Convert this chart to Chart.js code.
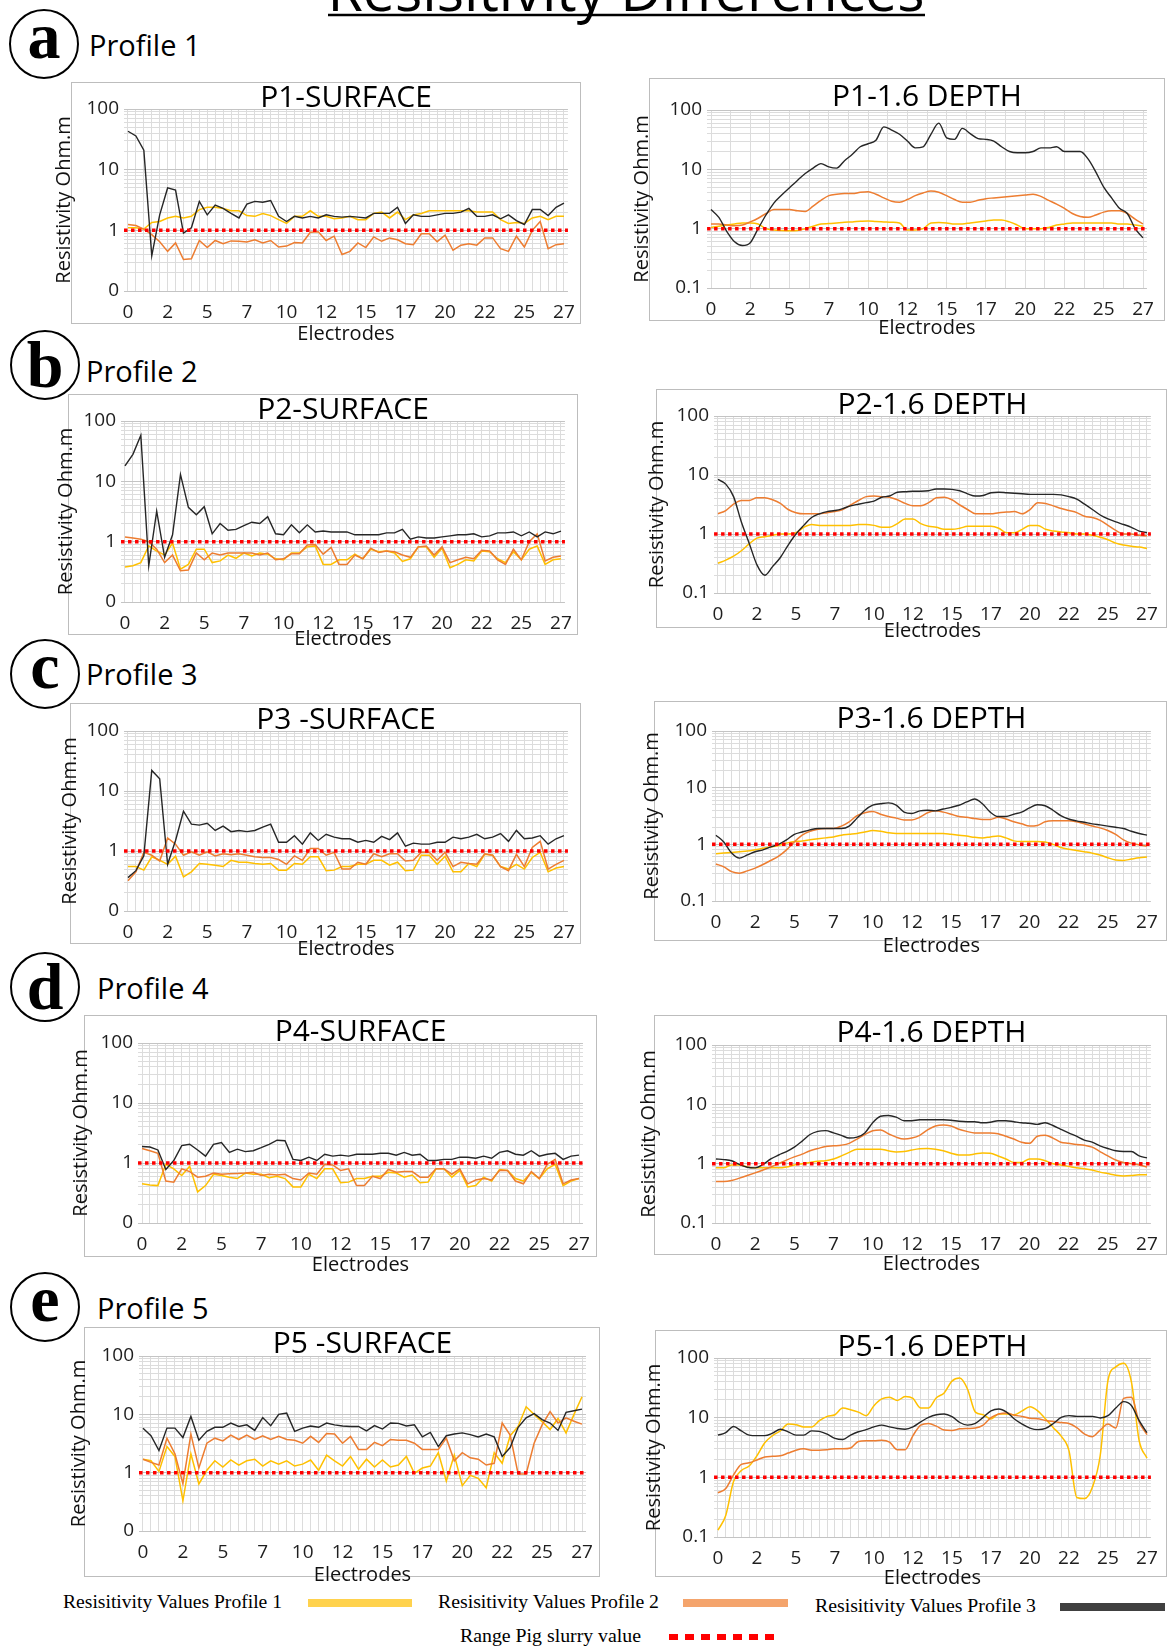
<!DOCTYPE html>
<html>
<head>
<meta charset="utf-8">
<script src="https://cdn.jsdelivr.net/npm/chart.js@4.4.1/dist/chart.umd.min.js"></script>
<style>
html,body{margin:0;padding:0;background:#fff;}
#page{position:relative;width:1168px;height:1648px;overflow:hidden;background:#fff;}
.box{position:absolute;border:1px solid #BDBDBD;background:#fff;box-sizing:border-box;z-index:1;}
canvas{position:absolute;z-index:2;}
#deco{position:absolute;left:0;top:0;z-index:0;}
</style>
</head>
<body>
<div id="page">
<svg id="deco" width="1168" height="1648" xmlns="http://www.w3.org/2000/svg">
  <text x="626" y="11" font-family="Open Sans" font-size="58" text-anchor="middle" textLength="597" lengthAdjust="spacingAndGlyphs">Resisitivity Differences</text>
  <line x1="328" y1="15" x2="925" y2="15" stroke="#000" stroke-width="2.5"/>

  <circle cx="44" cy="44" r="34" fill="none" stroke="#000" stroke-width="2"/>
  <text x="44" y="58" font-family="Liberation Serif" font-weight="bold" font-size="66" text-anchor="middle">a</text>
  <text x="89" y="56" font-family="Open Sans" font-size="29">Profile 1</text>

  <circle cx="45" cy="365" r="34" fill="none" stroke="#000" stroke-width="2"/>
  <text x="45" y="387" font-family="Liberation Serif" font-weight="bold" font-size="66" text-anchor="middle">b</text>
  <text x="86" y="382" font-family="Open Sans" font-size="29">Profile 2</text>

  <circle cx="45" cy="674" r="34" fill="none" stroke="#000" stroke-width="2"/>
  <text x="45" y="688" font-family="Liberation Serif" font-weight="bold" font-size="66" text-anchor="middle">c</text>
  <text x="86" y="685" font-family="Open Sans" font-size="29">Profile 3</text>

  <circle cx="45" cy="987" r="34" fill="none" stroke="#000" stroke-width="2"/>
  <text x="45" y="1009" font-family="Liberation Serif" font-weight="bold" font-size="66" text-anchor="middle">d</text>
  <text x="97" y="999" font-family="Open Sans" font-size="29">Profile 4</text>

  <circle cx="45" cy="1307" r="34" fill="none" stroke="#000" stroke-width="2"/>
  <text x="45" y="1321" font-family="Liberation Serif" font-weight="bold" font-size="66" text-anchor="middle">e</text>
  <text x="97" y="1319" font-family="Open Sans" font-size="29">Profile 5</text>

  <text x="63" y="1608" font-family="Liberation Serif" font-size="19" textLength="219" lengthAdjust="spacingAndGlyphs">Resisitivity Values Profile 1</text>
  <rect x="308" y="1599" width="104" height="8" fill="#FFD24D"/>
  <text x="438" y="1608" font-family="Liberation Serif" font-size="19" textLength="221" lengthAdjust="spacingAndGlyphs">Resisitivity Values Profile 2</text>
  <rect x="683" y="1599" width="105" height="8" fill="#F4A46C"/>
  <text x="815" y="1612" font-family="Liberation Serif" font-size="19" textLength="221" lengthAdjust="spacingAndGlyphs">Resisitivity Values Profile 3</text>
  <rect x="1060" y="1603" width="105" height="8" fill="#404040"/>
  <text x="460" y="1642" font-family="Liberation Serif" font-size="19" textLength="181" lengthAdjust="spacingAndGlyphs">Range Pig slurry value</text>
  <line x1="669" y1="1637" x2="775" y2="1637" stroke="#FF0000" stroke-width="6" stroke-dasharray="9 7"/>
</svg>
</div>
<script>
// ---------------- DATA ----------------
const ELECTRODES = [0,0.5,1,1.5,2,2.5,3,3.5,4,4.5,5,5.5,6,6.5,7,7.5,8,8.5,9,9.5,10,10.5,11,11.5,12,12.5,13,13.5,14,14.5,15,15.5,16,16.5,17,17.5,18,18.5,19,19.5,20,20.5,21,21.5,22,22.5,23,23.5,24,24.5,25,25.5,26,26.5,27,27.5];
const XTICK_VALUES = [0,2.5,5,7.5,10,12.5,15,17.5,20,22.5,25,27.5];
const XTICK_LABELS = ['0','2','5','7','10','12','15','17','20','22','25','27'];
const SLURRY_VALUE = 1;
const SERIES_NAMES = ['Resisitivity Values Profile 1','Resisitivity Values Profile 2','Resisitivity Values Profile 3'];

// P1 surface
const p1SurfaceProfile1 = [1.1,1.1,1.05,1.35,1.4,1.6,1.7,1.6,1.7,2.2,2.4,2.4,2.3,2.1,2.1,1.75,1.7,1.9,1.75,1.5,1.3,1.7,1.7,2.1,1.7,1.7,1.55,1.6,1.7,1.5,1.5,1.9,2.0,1.6,2.0,1.5,1.8,1.9,2.1,2.1,2.1,2.1,2.1,2.1,2.0,2.0,2.0,1.5,1.3,1.35,1.3,1.6,1.7,1.5,1.7,1.7];
const p1SurfaceProfile2 = [1.25,1.2,1.05,0.85,0.65,0.45,0.62,0.33,0.34,0.68,0.52,0.68,0.6,0.67,0.66,0.64,0.7,0.62,0.68,0.53,0.55,0.63,0.62,0.93,0.95,0.68,0.8,0.4,0.45,0.62,0.52,0.78,0.66,0.75,0.7,0.6,0.58,0.88,0.88,0.65,0.83,0.47,0.57,0.6,0.57,0.75,0.75,0.5,0.45,0.8,0.53,1.0,1.4,0.5,0.58,0.6];
const p1SurfaceProfile3 = [43,36,21,0.38,1.8,5.0,4.6,0.9,1.1,3.0,1.8,2.6,2.3,1.9,1.6,2.7,3.0,2.9,3.1,1.7,1.4,1.7,1.6,1.7,1.6,1.8,1.7,1.65,1.7,1.65,1.6,1.9,1.9,1.9,2.4,1.3,1.8,1.7,1.7,1.8,1.9,1.9,2.0,2.3,1.7,1.7,1.8,1.55,1.8,1.45,1.25,2.2,2.2,1.75,2.4,2.8];
// P1 1.6 depth
const p1DepthProfile1 = [1.05,1.1,1.15,1.2,1.25,1.25,1.2,1.0,0.95,0.93,0.92,0.93,1.0,1.1,1.2,1.22,1.25,1.28,1.3,1.33,1.35,1.32,1.3,1.28,1.25,0.95,0.95,1.0,1.25,1.27,1.25,1.2,1.2,1.25,1.3,1.35,1.4,1.4,1.3,1.15,1.0,1.0,1.0,1.05,1.15,1.2,1.25,1.25,1.25,1.25,1.25,1.25,1.2,1.2,1.15,1.1];
const p1DepthProfile2 = [1.2,1.2,1.15,1.12,1.15,1.3,1.5,1.8,2.1,2.1,2.1,2.0,1.95,2.4,3.0,3.6,3.8,3.9,3.9,4.1,4.2,3.8,3.3,2.9,2.8,3.1,3.6,4.0,4.3,4.1,3.6,3.1,2.8,2.8,3.0,3.2,3.3,3.4,3.5,3.6,3.7,3.8,3.5,3.0,2.6,2.2,1.8,1.6,1.55,1.7,1.9,2.0,2.0,1.8,1.45,1.2];
const p1DepthProfile3 = [2.1,1.55,0.9,0.6,0.52,0.58,1.0,1.7,2.7,3.7,4.9,6.5,8.5,10.5,12.5,11,10.5,14,18,24,27,31,52,46,39,30,23,24,39,60,34,32,49,40,33,32,30,24,20,19,19,20,23,23,24,20,20,20,15,9,5,3.3,2.2,1.8,1.0,0.7];
// P2 surface
const p2SurfaceProfile1 = [0.38,0.4,0.45,0.85,0.7,0.6,0.95,0.35,0.42,0.75,0.75,0.45,0.48,0.6,0.53,0.65,0.58,0.65,0.62,0.52,0.5,0.65,0.65,0.82,0.85,0.42,0.42,0.5,0.5,0.62,0.52,0.75,0.68,0.7,0.65,0.47,0.52,0.82,0.82,0.55,0.78,0.37,0.42,0.5,0.48,0.7,0.68,0.52,0.45,0.68,0.5,0.75,0.85,0.42,0.5,0.52];
const p2SurfaceProfile2 = [1.2,1.15,1.1,1.0,0.75,0.45,0.6,0.33,0.34,0.65,0.5,0.65,0.6,0.65,0.65,0.65,0.65,0.6,0.65,0.5,0.52,0.63,0.63,0.88,0.9,0.62,0.8,0.42,0.42,0.6,0.52,0.78,0.66,0.7,0.68,0.6,0.55,0.82,0.85,0.6,0.82,0.45,0.5,0.55,0.52,0.72,0.7,0.5,0.42,0.75,0.5,1.0,1.35,0.48,0.55,0.58];
const p2SurfaceProfile3 = [18,28,58,0.4,3.2,0.55,1.3,13,3.7,2.8,3.8,1.35,2.0,1.55,1.6,1.85,2.1,2.0,2.6,1.35,1.3,1.9,1.4,1.9,1.45,1.5,1.45,1.45,1.45,1.3,1.3,1.3,1.3,1.4,1.4,1.6,1.1,1.2,1.15,1.15,1.2,1.25,1.3,1.3,1.35,1.2,1.25,1.4,1.4,1.45,1.25,1.45,1.2,1.45,1.35,1.5];
// P2 1.6 depth
const p2DepthProfile1 = [0.32,0.36,0.42,0.52,0.68,0.85,0.9,0.95,1.0,1.0,1.05,1.3,1.45,1.4,1.4,1.4,1.4,1.4,1.45,1.45,1.4,1.3,1.3,1.5,1.8,1.8,1.5,1.35,1.3,1.2,1.2,1.25,1.35,1.35,1.35,1.35,1.25,1.05,1.05,1.2,1.4,1.4,1.2,1.12,1.08,1.05,1.0,1.0,0.95,0.88,0.8,0.7,0.65,0.62,0.6,0.57];
const p2DepthProfile2 = [2.2,2.5,3.2,3.7,3.7,4.1,4.1,3.8,3.3,2.6,2.3,2.2,2.2,2.2,2.3,2.4,2.6,3.1,3.7,4.3,4.4,4.3,4.2,3.8,3.3,3.0,3.0,3.4,4.1,4.2,3.8,3.1,2.6,2.2,2.2,2.2,2.3,2.35,2.4,2.2,2.6,3.4,3.3,3.0,2.7,2.5,2.3,2.0,1.9,1.7,1.4,1.15,1.0,1.0,0.95,0.93];
const p2DepthProfile3 = [8.4,7.0,4.3,1.6,0.7,0.3,0.2,0.28,0.4,0.65,1.0,1.4,1.9,2.2,2.4,2.5,2.7,3.0,3.2,3.4,3.6,4.2,4.4,5.1,5.2,5.3,5.3,5.4,5.8,5.8,5.7,5.4,4.8,4.4,4.5,5.0,5.1,5.0,4.9,4.8,4.7,4.7,4.7,4.7,4.6,4.3,3.9,3.2,2.6,2.1,1.8,1.6,1.45,1.3,1.12,1.05];
// P3 surface
const p3SurfaceProfile1 = [0.55,0.55,0.48,0.8,0.7,0.6,0.82,0.37,0.45,0.62,0.6,0.58,0.55,0.7,0.65,0.65,0.62,0.6,0.62,0.48,0.48,0.62,0.6,0.8,0.8,0.47,0.48,0.55,0.55,0.6,0.6,0.7,0.7,0.58,0.65,0.47,0.48,0.85,0.85,0.6,0.82,0.45,0.45,0.62,0.55,0.88,0.85,0.55,0.5,0.6,0.5,0.78,0.95,0.45,0.52,0.55];
const p3SurfaceProfile2 = [0.32,0.45,0.95,0.85,0.68,1.65,1.3,0.85,0.97,0.85,0.97,0.83,0.9,0.87,0.9,0.85,0.8,0.78,0.78,0.72,0.6,0.83,0.7,1.1,1.1,0.85,0.95,0.5,0.5,0.65,0.6,0.9,0.8,0.9,0.9,0.68,0.7,0.95,0.95,0.7,0.95,0.55,0.65,0.62,0.6,0.9,0.85,0.55,0.47,0.88,0.55,1.15,1.45,0.5,0.6,0.7];
const p3SurfaceProfile3 = [0.36,0.47,0.83,22,16,0.6,1.5,4.6,2.8,2.7,2.9,2.2,2.6,2.1,2.2,2.1,2.2,2.5,2.8,1.4,1.4,1.8,1.3,2.0,1.5,1.9,1.7,1.6,1.6,1.4,1.5,1.4,1.75,1.55,2.0,1.2,1.35,1.3,1.3,1.4,1.4,1.7,1.6,1.7,1.9,1.6,1.7,1.95,1.45,2.2,1.6,1.65,1.8,1.3,1.6,1.8];
// P3 1.6 depth
const p3DepthProfile1 = [0.68,0.7,0.72,0.74,0.76,0.8,0.85,0.9,0.95,1.05,1.12,1.15,1.2,1.25,1.3,1.35,1.45,1.5,1.55,1.65,1.75,1.7,1.6,1.55,1.55,1.55,1.55,1.55,1.55,1.55,1.5,1.45,1.4,1.33,1.3,1.35,1.4,1.3,1.15,1.12,1.12,1.12,1.1,1.0,0.88,0.82,0.78,0.74,0.7,0.65,0.58,0.53,0.52,0.55,0.58,0.6];
const p3DepthProfile2 = [0.45,0.4,0.33,0.31,0.34,0.38,0.44,0.52,0.62,0.8,1.1,1.45,1.7,1.85,1.9,1.9,2.1,2.5,3.2,3.6,3.8,3.4,3.1,2.9,2.7,2.7,3.0,3.6,3.9,3.7,3.4,3.1,3.0,2.85,2.75,2.75,3.0,2.8,2.5,2.3,2.1,2.15,2.5,2.6,2.6,2.6,2.5,2.3,2.1,1.95,1.75,1.5,1.2,1.05,0.98,0.93];
const p3DepthProfile3 = [1.45,1.1,0.7,0.57,0.65,0.74,0.8,0.9,1.0,1.2,1.5,1.65,1.8,1.9,1.9,1.9,1.9,2.1,2.9,4.0,4.9,5.2,5.4,4.9,3.7,3.5,3.9,4.0,3.9,4.2,4.5,4.9,5.6,6.3,5.2,3.7,3.1,3.1,3.4,3.7,4.4,5.0,4.8,4.0,3.2,2.8,2.6,2.45,2.3,2.2,2.1,2.0,1.9,1.7,1.55,1.45];
// P4 surface
const p4SurfaceProfile1 = [0.45,0.43,0.42,0.95,0.8,0.62,0.88,0.33,0.42,0.65,0.62,0.58,0.55,0.68,0.65,0.65,0.57,0.6,0.55,0.4,0.4,0.65,0.55,0.8,0.8,0.47,0.48,0.55,0.55,0.6,0.6,0.7,0.68,0.58,0.63,0.47,0.48,0.8,0.8,0.58,0.75,0.4,0.42,0.58,0.5,0.78,0.75,0.55,0.5,0.7,0.55,0.8,0.95,0.42,0.5,0.55];
const p4SurfaceProfile2 = [1.75,1.6,1.45,0.5,0.48,0.8,0.72,0.58,0.6,0.68,0.65,0.66,0.67,0.68,0.7,0.62,0.65,0.63,0.65,0.55,0.52,0.68,0.65,0.95,0.93,0.75,0.8,0.42,0.42,0.6,0.55,0.78,0.7,0.72,0.72,0.58,0.58,0.8,0.8,0.65,0.8,0.45,0.52,0.55,0.52,0.75,0.75,0.5,0.45,0.72,0.55,0.95,1.15,0.45,0.52,0.55];
const p4SurfaceProfile3 = [1.88,1.85,1.65,0.78,1.1,1.95,2.05,1.65,1.3,2.05,2.2,1.5,1.7,1.55,1.6,1.8,2.05,2.4,2.35,1.15,1.1,1.25,1.1,1.4,1.3,1.35,1.3,1.4,1.4,1.4,1.45,1.45,1.35,1.5,1.35,1.4,1.1,1.1,1.15,1.15,1.25,1.25,1.2,1.3,1.2,1.5,1.6,1.4,1.35,1.6,1.3,1.4,1.45,1.15,1.3,1.35];
// P4 1.6 depth
const p4DepthProfile1 = [0.85,0.85,0.95,0.95,0.88,0.85,0.85,0.85,0.85,0.88,0.95,1.0,1.05,1.1,1.12,1.2,1.35,1.55,1.75,1.75,1.75,1.75,1.65,1.58,1.6,1.7,1.78,1.8,1.75,1.65,1.5,1.4,1.4,1.45,1.52,1.5,1.35,1.2,1.05,1.05,1.2,1.2,1.12,1.0,0.95,0.9,0.85,0.82,0.78,0.72,0.68,0.64,0.62,0.63,0.65,0.65];
const p4DepthProfile2 = [0.5,0.5,0.52,0.57,0.63,0.7,0.78,0.88,1.0,1.15,1.3,1.45,1.65,1.8,1.95,2.0,2.05,2.2,2.6,3.1,3.6,3.7,3.2,2.8,2.6,2.7,3.0,3.7,4.3,4.5,4.3,3.8,3.5,3.3,3.3,3.3,3.2,2.9,2.6,2.3,2.2,2.9,3.0,2.7,2.3,2.2,2.1,2.05,1.9,1.6,1.35,1.15,1.05,1.0,0.95,0.88];
const p4DepthProfile3 = [1.2,1.17,1.12,0.97,0.87,0.85,0.97,1.2,1.4,1.6,1.9,2.4,3.1,3.5,3.6,3.3,3.0,2.7,2.8,3.3,4.9,6.3,6.5,6.1,5.3,5.3,5.5,5.5,5.5,5.5,5.4,5.2,5.1,5.1,4.9,5.0,5.3,5.3,5.1,4.9,4.8,4.6,4.9,4.4,3.8,3.3,2.9,2.5,2.3,2.0,1.8,1.65,1.6,1.6,1.35,1.25];
// P5 surface
const p5SurfaceProfile1 = [1.7,1.6,1.05,2.8,1.9,0.33,2.1,0.64,1.1,1.6,1.25,1.65,1.35,1.6,1.7,1.3,1.6,1.4,1.6,1.3,1.4,1.65,1.1,2.0,1.6,1.3,1.9,1.15,1.7,1.25,1.65,1.25,1.35,1.9,0.97,1.2,1.3,2.2,0.72,2.0,0.6,0.9,0.8,0.55,2.2,1.45,4.3,6.2,13.5,10,7.5,5.5,8.5,4.8,10,20];
const p5SurfaceProfile2 = [1.7,1.5,1.35,3.9,2.1,0.65,4.6,1.2,3.2,3.9,3.5,4.4,3.7,4.4,3.7,4.3,3.7,4.2,3.7,3.6,3.2,4.2,3.3,4.7,4.6,3.2,4.2,2.5,2.5,3.3,2.9,3.7,3.6,3.6,3.2,2.5,2.5,2.5,3.9,1.6,2.2,1.8,1.7,1.35,1.45,7.1,4.4,0.95,0.95,3.2,6.6,11.1,7.1,8.7,7.6,6.8];
const p5SurfaceProfile3 = [5.8,4.3,2.4,5.8,5.8,4.0,9.2,3.6,5.1,6.0,6.0,7.1,6.2,6.6,5.3,8.8,6.4,10,10.5,5.1,5.8,6.3,6.0,7.1,6.6,6.3,6.2,6.2,5.2,6.4,5.6,7.1,7.0,6.3,6.6,4.1,4.9,2.8,4.3,4.6,4.8,4.5,4.1,4.6,4.1,1.9,2.7,6.0,8.7,10.3,8.1,7.1,5.3,10.8,11.5,12.3];
// P5 1.6 depth
const p5DepthProfile1 = [0.13,0.23,0.85,1.3,1.55,2.3,3.8,5.0,6.0,7.8,7.6,7.0,7.0,8.9,10.5,11.2,14.5,13.6,12.4,10.8,15.9,20.6,22,19.4,22.6,21,14.5,14.5,21.6,26,41,46,30,12.4,11.2,9.5,11.5,11.5,11.2,13,15.3,13,9.5,6.8,4.9,2.8,0.46,0.44,0.68,2.3,42,71,82,40,4.1,2.1];
const p5DepthProfile2 = [0.55,0.65,1.1,1.65,1.75,1.95,2.2,2.25,2.3,2.55,2.85,3.0,2.85,2.85,2.9,3.0,3.0,3.1,4.0,4.1,4.1,4.2,3.9,2.9,2.9,5.0,7.5,8.0,7.2,6.2,6.1,6.5,6.6,6.7,7.5,10.0,11.5,12.0,11.0,10.5,9.8,9.6,9.0,8.6,8.3,8.0,6.8,5.3,4.8,6.2,7.8,6.7,21,22,8.5,5.2];
const p5DepthProfile3 = [5.1,5.6,7.1,6.0,5.1,5.0,5.0,5.5,6.4,5.8,5.1,5.1,6.0,5.9,5.3,4.5,4.3,5.1,5.8,6.3,7.0,7.5,7.0,6.6,6.4,7.0,8.5,10.1,11.2,11.5,10.4,8.3,7.5,8.0,10.1,13,14,12.4,9.5,7.8,6.7,6.3,6.6,8.0,10.1,10.8,10.5,10.5,10.5,9.9,10.8,14.5,18.6,16,8.9,5.6];

// ---------------- STYLE / LAYOUT ----------------
const FONT = '"Open Sans", sans-serif';
const COLORS = ['#FFC000', '#ED7D31', '#262626'];
const X_PAD = 0.25;
const X_MAX = 27.5;
const TITLE_SIZE = 30;
const TITLE_SHIFT = 6;
const TICK_SIZE = 19;
const AXIS_TITLE_SIZE = 20;

function range(a, b, step) { const r = []; for (let v = a; v <= b + 1e-9; v += step) r.push(Math.round(v * 1000) / 1000); return r; }
const GRID_FINE = range(0, X_MAX, 0.5);
const GRID_COARSE = range(0, X_MAX, 1.25);
const Y_TICKS = [];
[0.1, 1, 10].forEach(d => { for (let k = 1; k <= 9; k++) Y_TICKS.push(Math.round(k * d * 1000) / 1000); });
Y_TICKS.push(100);

const isDecade = v => Math.abs(Math.log10(v) - Math.round(Math.log10(v))) < 1e-6;

const CHARTS = [
  {title:'P1-SURFACE', surface:true, s:[p1SurfaceProfile1,p1SurfaceProfile2,p1SurfaceProfile3], box:[71,82,581,324], x0:128, x27:566, y100:109, y01:291, yt:64, eo:43, grid:GRID_FINE},
  {title:'P1-1.6 DEPTH', surface:false, s:[p1DepthProfile1,p1DepthProfile2,p1DepthProfile3], box:[649,78,1165,321], x0:711, x27:1143, y100:110, y01:288, yt:642, eo:40, grid:GRID_COARSE},
  {title:'P2-SURFACE', surface:true, s:[p2SurfaceProfile1,p2SurfaceProfile2,p2SurfaceProfile3], box:[68,394,578,635], x0:125, x27:563, y100:421, y01:602, yt:66, eo:37, grid:GRID_FINE},
  {title:'P2-1.6 DEPTH', surface:false, s:[p2DepthProfile1,p2DepthProfile2,p2DepthProfile3], box:[656,389,1167,628], x0:718, x27:1151, y100:416, y01:593, yt:657, eo:38, grid:GRID_FINE},
  {title:'P3 -SURFACE', surface:true, s:[p3SurfaceProfile1,p3SurfaceProfile2,p3SurfaceProfile3], box:[70,703,581,944], x0:128, x27:566, y100:731, y01:911, yt:70, eo:38, grid:GRID_FINE},
  {title:'P3-1.6 DEPTH', surface:false, s:[p3DepthProfile1,p3DepthProfile2,p3DepthProfile3], box:[654,701,1167,941], x0:716, x27:1152, y100:731, y01:901, yt:652, eo:45, grid:GRID_FINE},
  {title:'P4-SURFACE', surface:true, s:[p4SurfaceProfile1,p4SurfaceProfile2,p4SurfaceProfile3], box:[84,1015,597,1257], x0:142, x27:579, y100:1043, y01:1223, yt:81, eo:42, grid:GRID_FINE},
  {title:'P4-1.6 DEPTH', surface:false, s:[p4DepthProfile1,p4DepthProfile2,p4DepthProfile3], box:[654,1015,1167,1255], x0:716, x27:1152, y100:1045, y01:1223, yt:649, eo:41, grid:GRID_FINE},
  {title:'P5 -SURFACE', surface:true, s:[p5SurfaceProfile1,p5SurfaceProfile2,p5SurfaceProfile3], box:[84,1327,600,1577], x0:143, x27:582, y100:1356, y01:1531, yt:79, eo:44, grid:GRID_FINE},
  {title:'P5-1.6 DEPTH', surface:false, s:[p5DepthProfile1,p5DepthProfile2,p5DepthProfile3], box:[655,1330,1167,1577], x0:718, x27:1153, y100:1358, y01:1537, yt:654, eo:41, grid:GRID_FINE}
];

Chart.defaults.font.family = FONT;
const page = document.getElementById('page');

function xLabel(v) {
  const k = XTICK_VALUES.findIndex(t => Math.abs(t - v) < 1e-6);
  return k >= 0 ? XTICK_LABELS[k] : '';
}

CHARTS.forEach(spec => {
  const [bl, bt, br, bb] = spec.box;
  const box = document.createElement('div');
  box.className = 'box';
  box.style.left = bl + 'px'; box.style.top = bt + 'px';
  box.style.width = (br - bl) + 'px'; box.style.height = (bb - bt) + 'px';
  page.appendChild(box);

  const cl = bl - 26, ct = bt;
  const cr = Math.min(br + 4, 1168);
  const u = (spec.x27 - spec.x0) / X_MAX;
  const gridL = spec.x0 - X_PAD * u, gridR = spec.x27 + X_PAD * u;
  const axisLh = AXIS_TITLE_SIZE * 1.2;
  const xAxisH = spec.eo + axisLh / 2;
  const W = Math.round(cr - cl), H = Math.round(spec.y01 - ct + xAxisH);
  const yAxisW = gridL - cl;
  const titleH = spec.y100 - ct;
  const yTitlePad = spec.yt - cl - axisLh / 2;

  const cv = document.createElement('canvas');
  cv.width = W; cv.height = H;
  cv.style.left = cl + 'px'; cv.style.top = ct + 'px';
  cv.style.width = W + 'px'; cv.style.height = H + 'px';
  page.appendChild(cv);

  const datasets = [{
    label: 'Range Pig slurry value',
    data: [{x: -X_PAD, y: SLURRY_VALUE}, {x: X_MAX + X_PAD, y: SLURRY_VALUE}],
    borderColor: '#FF0000', borderWidth: 3.5, borderDash: [3.5, 3.5], borderCapStyle: 'butt',
    pointRadius: 0, fill: false
  }];
  [2, 1, 0].forEach(k => {
    datasets.push({
      label: SERIES_NAMES[k],
      data: ELECTRODES.map((x, i) => ({x, y: spec.s[k][i]})),
      borderColor: COLORS[k], borderWidth: k === 2 ? 1.4 : 1.5,
      pointRadius: 0, fill: false,
      tension: spec.surface ? 0 : 0.4,
      cubicInterpolationMode: spec.surface ? 'default' : 'monotone'
    });
  });

  new Chart(cv.getContext('2d'), {
    type: 'line',
    data: { datasets },
    options: {
      responsive: false, animation: false, devicePixelRatio: 1,
      layout: { padding: { left: 0, top: 0, right: cr - gridR, bottom: 0 } },
      plugins: {
        legend: { display: false },
        tooltip: { enabled: false },
        title: { display: true, text: spec.title, fullSize: false, padding: { top: TITLE_SHIFT, bottom: 0 }, color: '#000',
                 font: { family: FONT, size: TITLE_SIZE, weight: 'normal', lineHeight: (titleH - TITLE_SHIFT) / TITLE_SIZE } }
      },
      scales: {
        x: {
          type: 'linear', min: -X_PAD, max: X_MAX + X_PAD,
          afterBuildTicks: s => { s.ticks = spec.grid.map(v => ({value: v})); },
          afterFit: s => { s.height = xAxisH; },
          ticks: { autoSkip: false, maxRotation: 0, minRotation: 0, padding: 10, color: '#1e1e1e',
                   font: { size: TICK_SIZE, family: FONT }, callback: v => xLabel(v) },
          grid: { color: '#DCDCDC', lineWidth: 1, drawTicks: false },
          border: { display: false },
          title: { display: true, text: 'Electrodes', color: '#111', padding: { top: 0, bottom: 0 },
                   font: { size: AXIS_TITLE_SIZE, family: FONT, lineHeight: 1.2 } }
        },
        y: {
          type: 'logarithmic', min: 0.1, max: 100,
          afterBuildTicks: s => { s.ticks = Y_TICKS.map(v => ({value: v, major: isDecade(v)})); },
          afterFit: s => { s.width = yAxisW; },
          ticks: { autoSkip: false, padding: 5, color: '#1e1e1e', font: { size: TICK_SIZE, family: FONT },
                   callback: v => isDecade(v) ? (spec.surface && v < 0.5 ? '0' : String(v)) : '' },
          grid: { color: c => (c.tick && isDecade(c.tick.value)) ? '#C4C4C4' : '#DCDCDC', lineWidth: 1, drawTicks: false },
          border: { display: false },
          title: { display: true, text: 'Resistivity Ohm.m', color: '#111', padding: { top: yTitlePad, bottom: 0 },
                   font: { size: AXIS_TITLE_SIZE, family: FONT, lineHeight: 1.2 } }
        }
      }
    }
  });
});
</script>
</body>
</html>
